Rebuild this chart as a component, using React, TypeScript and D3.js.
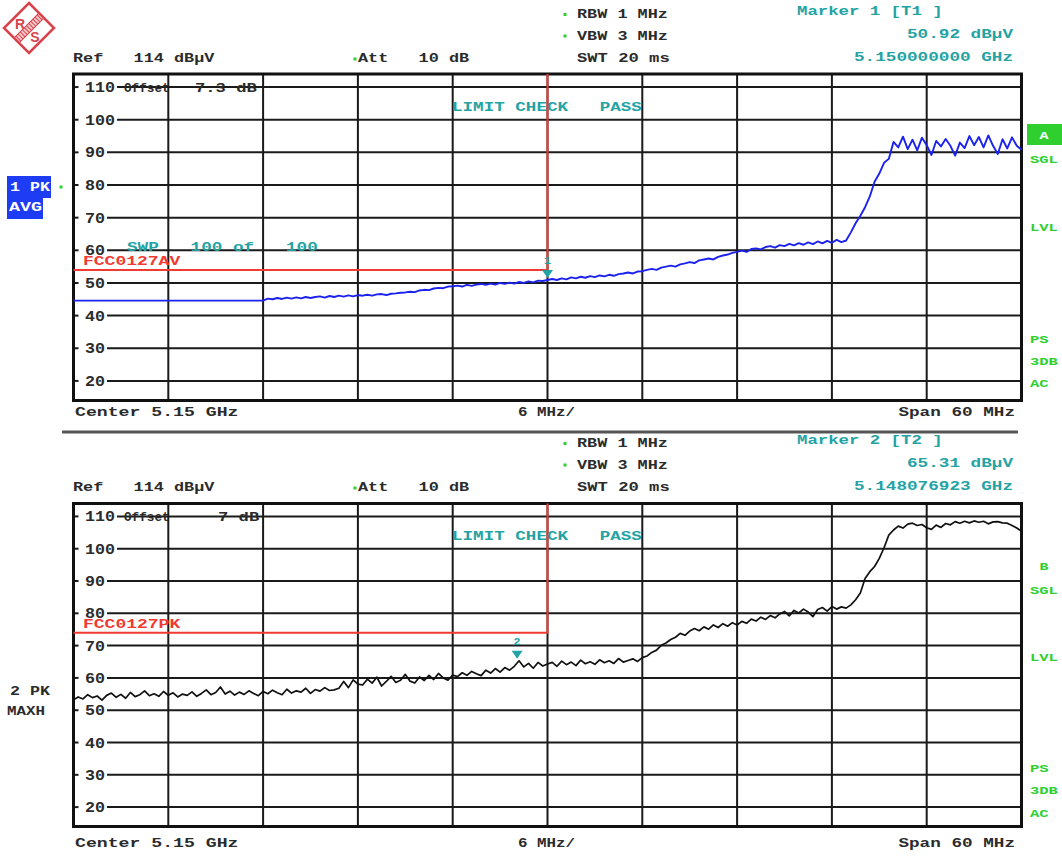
import React from 'react';
import * as d3 from 'd3';

const FONT = "'Liberation Mono','DejaVu Sans Mono','Courier New',monospace";
const TXT = '#2b2b2b';
const CYAN = '#23a3a3';
const GREEN = '#2fcf2f';
const RED = '#f03a32';
const BLUE = '#1c22ee';

const startGHz = 5.12;
const stopGHz = 5.18;
const pointCount = 201;
const yTickValues = [110, 100, 90, 80, 70, 60, 50, 40, 30, 20];
const refLevel = 114;
const bottomLevel = 14;
const xDivisions = [1, 2, 3, 4, 5, 6, 7, 8, 9];

// Trace 1: PK detector, AVG trace mode (dBµV)
const avgTrace = [
  44.6, 44.6, 44.6, 44.6, 44.6, 44.6, 44.6, 44.6, 44.6, 44.6, 44.6, 44.6, 44.6, 44.6, 44.6, 44.6, 44.6, 44.6, 44.6, 44.6,
  44.6, 44.6, 44.6, 44.6, 44.6, 44.6, 44.6, 44.6, 44.6, 44.6, 44.6, 44.6, 44.6, 44.6, 44.6, 44.6, 44.6, 44.6, 44.6, 44.6,
  44.6, 45.2, 45.0, 45.4, 45.1, 45.5, 45.2, 45.6, 45.3, 45.7, 45.4, 45.7, 45.9, 45.5, 46.0, 45.7, 46.1, 45.8, 46.2, 45.9,
  46.3, 46.1, 46.4, 46.1, 46.5, 46.6, 46.3, 46.7, 46.8, 47.0, 47.1, 47.3, 47.2, 47.7, 47.9, 47.8, 48.3, 48.5, 48.4, 48.9,
  49.0, 49.2, 48.9, 49.4, 49.1, 49.5, 49.7, 49.4, 49.8, 49.5, 50.0, 49.7, 50.1, 49.8, 50.3, 50.0, 50.5, 50.2, 50.7, 50.6,
  50.9, 51.2, 50.9, 51.4, 51.1, 51.7, 51.4, 51.9, 51.6, 52.1, 51.8, 52.3, 52.0, 52.5, 52.2, 52.7, 52.9, 53.2, 52.9, 53.5,
  53.6, 54.0, 54.3, 54.0, 54.7, 55.0, 55.3, 55.0, 55.7, 56.0, 56.4, 56.1, 56.9, 57.2, 57.5, 57.2, 58.0, 58.4, 58.7, 59.2,
  59.5, 59.9, 59.5, 60.4, 60.6, 60.3, 61.0, 61.3, 60.8, 61.6, 61.3, 62.0, 61.5, 62.2, 61.7, 62.4, 61.9, 62.7, 62.1, 62.9,
  62.3, 63.2, 62.5, 63.0, 65.5, 68.3, 70.6, 73.2, 76.5, 81.0, 83.5, 86.8, 88.0, 93.2, 91.5, 94.8, 91.0, 93.9, 90.6, 94.5,
  92.2, 89.2, 93.5, 91.8, 94.1, 92.0, 89.0, 93.0, 91.3, 95.0, 92.2, 94.7, 91.5, 95.2, 92.0, 89.5, 94.0, 91.2, 94.6, 92.0,
  90.8,
];

// Trace 2: PK detector, MAXH trace mode (dBµV)
const pkTrace = [
  53.2, 54.1, 53.5, 54.8, 53.9, 54.4, 53.1, 54.6, 55.3, 54.0, 54.9, 53.7, 55.5, 54.2, 54.8, 56.0, 54.5, 55.1, 54.3, 55.8,
  54.6, 55.4, 54.1, 55.0, 54.6, 55.7, 54.3, 55.2, 56.3, 54.8, 55.5, 57.2, 55.0, 55.9, 54.7, 55.6, 54.9, 56.0, 55.2, 54.5,
  55.8, 55.1, 56.2, 55.4, 54.8, 56.5, 55.3, 56.0, 55.6, 56.8, 55.2, 56.4, 55.9, 57.0, 56.1, 56.3, 56.8, 58.9, 57.0, 59.4,
  58.1, 57.8, 59.6, 58.4, 60.2, 57.5, 58.9, 60.5, 58.6, 59.3, 61.1, 59.0, 58.4, 60.3, 59.2, 60.8, 59.5, 61.4, 60.0, 59.3,
  60.9, 60.4, 61.6, 60.8, 62.0, 61.3, 60.7, 62.4, 61.5, 62.9, 61.8, 63.2, 62.4, 63.6, 65.3, 63.4, 64.5, 63.0, 64.8, 63.7,
  64.3, 64.8, 63.6, 65.2, 64.1, 64.9, 63.8, 65.5, 64.4, 65.0, 64.2, 65.6, 64.7, 65.3, 64.5, 66.0, 64.9, 65.4, 65.9, 65.1,
  66.3, 66.8, 67.9, 68.6, 70.1, 70.8, 71.9, 72.6, 73.8, 73.2, 74.5, 75.3, 74.6, 75.8, 75.1, 76.4, 75.6, 76.8, 76.0, 77.1,
  76.4, 77.5, 76.9, 78.2, 77.6, 78.8, 78.1, 79.3, 78.6, 79.8, 80.6, 79.2, 80.9, 80.1, 81.3, 80.4, 79.0, 81.2, 81.8, 80.7,
  82.1, 81.3, 82.0, 81.6, 82.6, 84.2, 86.3, 90.8, 92.9, 94.5, 97.0, 100.3, 104.2, 105.8, 107.0, 106.4, 107.6, 107.9, 107.2, 107.5,
  106.5, 106.0, 107.3, 106.6, 107.8, 107.4, 108.4, 107.9, 108.5, 108.0, 108.6, 108.2, 108.5, 107.7, 108.3, 108.4, 108.0, 107.9, 107.2, 106.4,
  105.4,
];

const avgLimit = 54;
const pkLimit = 74;
const limitStopGHz = 5.15;
const marker1 = { f: 5.15, v: 50.92 };
const marker2 = { f: 5.148076923, v: 65.31 };

const freqs = d3.range(pointCount).map((i) => startGHz + ((stopGHz - startGHz) * i) / (pointCount - 1));

const X0 = 73.5;
const X1 = 1021.5;

function T({ x, y, s, cw = 10.4, fill = TXT, anchor = 'start', size = 13.5, weight = 700 }: any) {
  return (
    <text
      x={x}
      y={y}
      fill={fill}
      fontFamily={FONT}
      fontSize={size}
      fontWeight={weight}
      textAnchor={anchor}
      dominantBaseline="central"
      textLength={s.length * cw}
      lengthAdjust="spacingAndGlyphs"
      style={{ whiteSpace: 'pre' }}
    >
      {s}
    </text>
  );
}

function Dot({ x, y }: any) {
  return <rect x={x - 1.5} y={y - 1.5} width={3} height={3} fill={GREEN} />;
}

function Panel({ top, bottom, data, color, width, limit, limitName, marker, mLabel, offsetLabel, offsetX, showSwp }: any) {
  const x = d3.scaleLinear().domain([startGHz, stopGHz]).range([X0, X1]);
  const y = d3.scaleLinear().domain([bottomLevel, refLevel]).range([bottom, top]);
  const line = d3
    .line<number>()
    .x((_, i) => x(freqs[i]))
    .y((d) => y(d));
  const xl = x(limitStopGHz);
  const yl = y(limit);
  const mx = x(marker.f);
  const my = y(marker.v);
  const step = (stopGHz - startGHz) / 10;
  return (
    <g>
      {xDivisions.map((k) => (
        <line key={k} x1={x(startGHz + k * step)} x2={x(startGHz + k * step)} y1={top} y2={bottom} stroke="#1a1a1a" strokeWidth={2} />
      ))}
      {yTickValues.map((v) => {
        const s = String(v);
        const lx = X0 + 11.5;
        return (
          <g key={v}>
            <line x1={X0} x2={X0 + 5} y1={y(v)} y2={y(v)} stroke="#1a1a1a" strokeWidth={2} />
            <line x1={lx + s.length * 10 + 2} x2={X1} y1={y(v)} y2={y(v)} stroke="#1a1a1a" strokeWidth={2} />
            <T x={lx} y={y(v) + 1} s={s} cw={10} size={14} />
          </g>
        );
      })}
      <rect x={X0} y={top} width={X1 - X0} height={bottom - top} fill="none" stroke="#111" strokeWidth={3} />
      <T x={124} y={y(110) + 1.5} s="Offset" cw={7.6} size={12} />
      <T x={offsetX} y={y(110) + 1.5} s={offsetLabel} cw={10.3} size={13} />
      <T x={452} y={top + 33} s="LIMIT CHECK   PASS" cw={10.55} fill={CYAN} />
      {showSwp && <T x={127} y={y(60) - 3} s="SWP   100 of   100" cw={10.6} fill={CYAN} size={13} />}
      <T x={83} y={yl - 8} s={limitName} cw={10.8} fill={RED} size={12.5} />
      <path d={`M${X0},${yl}H${xl}V${top}`} fill="none" stroke={RED} strokeWidth={2} />
      <path d={line(data) || ''} fill="none" stroke={color} strokeWidth={width} strokeLinejoin="round" />
      <path d={`M${mx - 5.5},${my - 10}H${mx + 5.5}L${mx},${my - 2}Z`} fill={CYAN} />
      <T x={mx} y={my - 19} s={mLabel} cw={7} fill={CYAN} anchor="middle" size={11} />
    </g>
  );
}

function Header({ base, markerName, markerVal, markerFreq }: any) {
  return (
    <g>
      <Dot x={565} y={base + 14.5} />
      <T x={577} y={base + 14.5} s="RBW 1 MHz" cw={10.1} />
      <Dot x={565} y={base + 36} />
      <T x={577} y={base + 36} s="VBW 3 MHz" cw={10.1} />
      <T x={73} y={base + 58} s="Ref   114 dBµV" cw={10.1} />
      <Dot x={355} y={base + 59} />
      <T x={358} y={base + 58} s="Att   10 dB" cw={10.1} />
      <T x={577} y={base + 58} s="SWT 20 ms" cw={10.3} />
      <T x={797} y={base + 11.5} s={markerName} cw={10.4} fill={CYAN} />
      <T x={1013} y={base + 34} s={markerVal} cw={10.6} fill={CYAN} anchor="end" />
      <T x={1013} y={base + 57} s={markerFreq} cw={10.6} fill={CYAN} anchor="end" />
    </g>
  );
}

function Footer({ yy }: any) {
  return (
    <g>
      <T x={75} y={yy} s="Center 5.15 GHz" cw={10.9} />
      <T x={518} y={yy} s="6 MHz/" cw={9.5} />
      <T x={1015} y={yy} s="Span 60 MHz" cw={10.6} anchor="end" />
    </g>
  );
}

function SideRight({ ys }: any) {
  const labels = ['SGL', 'LVL', 'PS', '3DB', 'AC'];
  return (
    <g>
      {labels.map((l, i) => (
        <T key={l} x={1030} y={ys[i]} s={l} cw={9.3} fill={GREEN} size={11.5} />
      ))}
    </g>
  );
}

function Logo() {
  return (
    <g transform="translate(29,28)">
      <polygon points="0,-25 25,0 0,25 -25,0" fill="#fff" stroke="#d9434b" strokeWidth={2.5} />
      <g transform="rotate(135)">
        <rect x={-17} y={-3.5} width={34} height={7} fill="#f6c9cb" stroke="#d9434b" strokeWidth={1} />
        {d3.range(-15, 17, 3).map((t) => (
          <line key={t} x1={t} x2={t} y1={-3.5} y2={3.5} stroke="#d9434b" strokeWidth={1} />
        ))}
      </g>
      <text x={-9} y={-4} fill="#d9434b" fontFamily="'Liberation Sans',Arial,sans-serif" fontWeight={700} fontSize={14} textAnchor="middle" dominantBaseline="central">R</text>
      <text x={6} y={9} fill="#d9434b" fontFamily="'Liberation Sans',Arial,sans-serif" fontWeight={700} fontSize={14} textAnchor="middle" dominantBaseline="central">S</text>
    </g>
  );
}

export default function App() {
  return (
    <svg width={1062} height={856} style={{ position: 'absolute', left: 0, top: 0, background: '#fff' }}>
      <rect width={1062} height={856} fill="#fff" />
      <Logo />
      <Header base={0} markerName="Marker 1 [T1 ]" markerVal="50.92 dBµV" markerFreq="5.150000000 GHz" />
      <Panel
        top={74}
        bottom={400.5}
        data={avgTrace}
        color={BLUE}
        width={1.9}
        limit={avgLimit}
        limitName="FCC0127AV"
        marker={marker1}
        mLabel="1"
        offsetLabel="7.3 dB"
        offsetX={195}
        showSwp
      />
      <rect x={7} y={176} width={44} height={22} fill="#1f3cf5" />
      <rect x={7} y={198} width={36} height={21} fill="#1f3cf5" />
      <T x={10} y={188} s="1 PK" cw={10} fill="#fff" size={12} />
      <T x={9} y={208} s="AVG" cw={11} fill="#fff" size={12} />
      <Dot x={61} y={187} />
      <rect x={1027} y={124} width={35} height={21} fill={GREEN} />
      <T x={1044} y={135} s="A" cw={9} fill="#fff" anchor="middle" size={11.5} />
      <SideRight ys={[159, 227, 339, 361, 383]} />
      <Footer yy={412} />

      <line x1={62} x2={1018} y1={432} y2={432} stroke="#555" strokeWidth={3} />

      <Header base={429} markerName="Marker 2 [T2 ]" markerVal="65.31 dBµV" markerFreq="5.148076923 GHz" />
      <Panel
        top={503.5}
        bottom={826.5}
        data={pkTrace}
        color="#111"
        width={1.7}
        limit={pkLimit}
        limitName="FCC0127PK"
        marker={marker2}
        mLabel="2"
        offsetLabel="7 dB"
        offsetX={218}
        showSwp={false}
      />
      <T x={10} y={692} s="2 PK" cw={10} fill={TXT} size={12} />
      <T x={7} y={712} s="MAXH" cw={9.5} fill={TXT} size={12} />
      <T x={1044} y={566} s="B" cw={9} fill={GREEN} anchor="middle" size={11.5} />
      <SideRight ys={[590, 657, 768, 790, 813]} />
      <Footer yy={843} />
    </svg>
  );
}
